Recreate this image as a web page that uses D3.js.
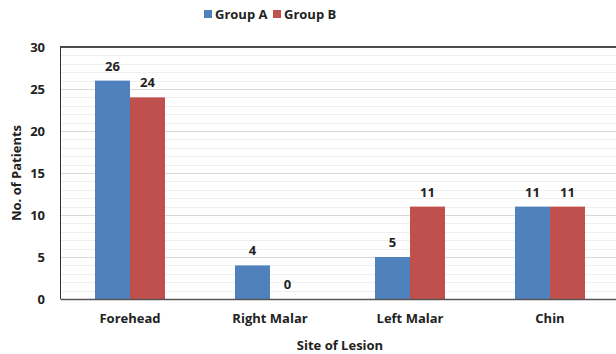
<!DOCTYPE html>
<html><head><meta charset="utf-8">
<script src="https://cdn.jsdelivr.net/npm/d3@7"></script>
<style>body{margin:0;background:#fff;} svg{display:block;} text{font-family:"Open Sans",sans-serif;font-weight:bold;fill:#222;}</style>
</head><body>
<svg id="c" width="616" height="354"></svg>
<script>
const categories = ["Forehead", "Right Malar", "Left Malar", "Chin"];
const seriesNames = ["Group A", "Group B"];
const groupA = [26, 4, 5, 11];
const groupB = [24, 0, 11, 11];
const yTicks = [0, 5, 10, 15, 20, 25, 30];
const colors = ["#4f81bd", "#c0504d"];
const FONT = "Open Sans";

const svg = d3.select("#c");
const m = {l: 60, t: 47, r: 620, b: 299};
const x = d3.scaleBand().domain(categories).range([m.l, m.r]).paddingInner(0).paddingOuter(0);
const xs = d3.scaleBand().domain(seriesNames).range([0, x.bandwidth()]).paddingInner(0).paddingOuter(1);
const y = d3.scaleLinear().domain([0, 30]).range([m.b, m.t]);

// gridlines
const g = svg.append("g");
g.selectAll("line.minor").data(d3.range(1, 30).filter(v => v % 5 !== 0)).join("line")
  .attr("x1", m.l).attr("x2", m.r).attr("y1", d => Math.round(y(d)) + 0.5).attr("y2", d => Math.round(y(d)) + 0.5)
  .attr("stroke", "#efefef").attr("stroke-width", 1);
g.selectAll("line.major").data([5, 10, 15, 20, 25]).join("line")
  .attr("x1", m.l).attr("x2", m.r).attr("y1", d => Math.round(y(d)) + 0.5).attr("y2", d => Math.round(y(d)) + 0.5)
  .attr("stroke", "#d9d9d9").attr("stroke-width", 1);

// bars
const data = categories.map((c, i) => ({c, vals: [groupA[i], groupB[i]]}));
const groups = svg.append("g").selectAll("g").data(data).join("g")
  .attr("transform", d => `translate(${x(d.c)},0)`);
groups.selectAll("rect").data(d => d.vals.map((v, j) => ({v, s: seriesNames[j], j}))).join("rect")
  .attr("x", d => xs(d.s)).attr("width", xs.bandwidth())
  .attr("y", d => y(d.v)).attr("height", d => y(0) - y(d.v))
  .attr("fill", d => colors[d.j]);
groups.selectAll("text").data(d => d.vals.map((v, j) => ({v, s: seriesNames[j], j}))).join("text")
  .attr("x", d => xs(d.s) + xs.bandwidth() / 2).attr("y", d => y(d.v) - 10)
  .attr("text-anchor", "middle").attr("font-size", 13).text(d => d.v);

// frame
svg.append("line").attr("x1", m.l).attr("x2", m.r).attr("y1", m.t).attr("y2", m.t).attr("stroke", "#111").attr("stroke-width", 1.5);
svg.append("line").attr("x1", m.l + 0.5).attr("x2", m.l + 0.5).attr("y1", m.t).attr("y2", m.b).attr("stroke", "#333").attr("stroke-width", 1);

// axes
const yAxis = d3.axisLeft(y).tickValues(yTicks).tickSize(0).tickPadding(15);
const ya = svg.append("g").attr("transform", `translate(${m.l},0)`).call(yAxis);
ya.select(".domain").remove();
ya.selectAll("text").attr("font-size", 13).attr("font-family", FONT).attr("font-weight", "bold").attr("fill", "#222");

const xAxis = d3.axisBottom(x).tickSize(0).tickPadding(15);
const xa = svg.append("g").attr("transform", `translate(0,${m.b})`).call(xAxis);
xa.select(".domain").attr("stroke", "#555").attr("stroke-width", 1.5);
xa.selectAll("text").attr("font-size", 13).attr("font-family", FONT).attr("font-weight", "bold").attr("fill", "#222");

// titles
svg.append("text").attr("x", 340).attr("y", 350).attr("text-anchor", "middle").attr("font-size", 13).text("Site of Lesion");
svg.append("text").attr("transform", "translate(21,173) rotate(-90)").attr("text-anchor", "middle").attr("font-size", 13).text("No. of Patients");

// legend
const legendX = [204, 273];
const lg = svg.append("g").selectAll("g").data(seriesNames).join("g")
  .attr("transform", (d, i) => `translate(${legendX[i]},10)`);
lg.append("rect").attr("width", 8).attr("height", 8).attr("fill", (d, i) => colors[i]);
lg.append("text").attr("x", 11).attr("y", 9).attr("font-size", 13).text(d => d);
</script>
</body></html>
